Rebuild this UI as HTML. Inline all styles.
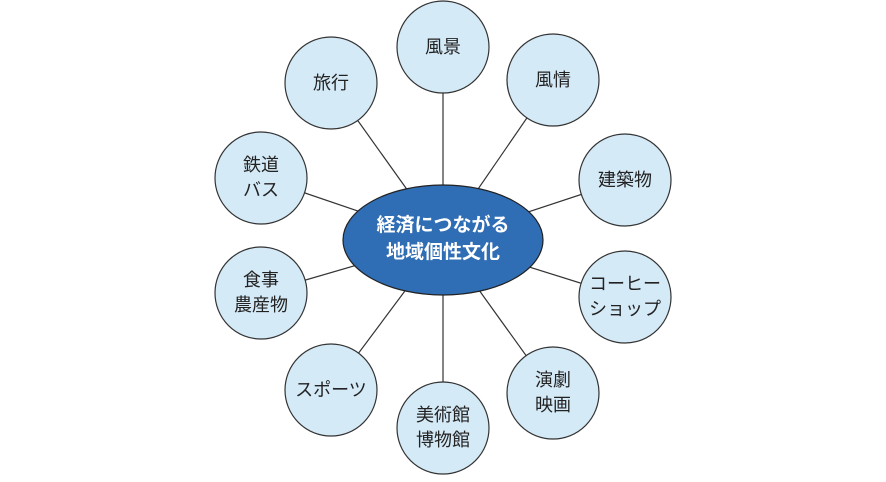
<!DOCTYPE html>
<html><head><meta charset="utf-8"><style>
body{margin:0;background:#fff}
svg text{font-family:"Liberation Sans","Noto Sans CJK JP",sans-serif}
</style></head><body>
<svg width="886" height="477" viewBox="0 0 886 477" xmlns="http://www.w3.org/2000/svg">
<g stroke="#333" stroke-width="1.2">
<line x1="443" y1="240" x2="443" y2="47"/>
<line x1="443" y1="240" x2="553" y2="80"/>
<line x1="443" y1="240" x2="625" y2="180"/>
<line x1="443" y1="240" x2="625" y2="297"/>
<line x1="443" y1="240" x2="553" y2="393"/>
<line x1="443" y1="240" x2="443" y2="428"/>
<line x1="443" y1="240" x2="331" y2="390"/>
<line x1="443" y1="240" x2="261" y2="293"/>
<line x1="443" y1="240" x2="261" y2="178"/>
<line x1="443" y1="240" x2="331" y2="83"/>
</g>
<g fill="#d5eaf7" stroke="#333" stroke-width="1.2">
<circle cx="443" cy="47" r="46"/>
<circle cx="553" cy="80" r="46"/>
<circle cx="625" cy="180" r="46"/>
<circle cx="625" cy="297" r="46"/>
<circle cx="553" cy="393" r="46"/>
<circle cx="443" cy="428" r="46"/>
<circle cx="331" cy="390" r="46"/>
<circle cx="261" cy="293" r="46"/>
<circle cx="261" cy="178" r="46"/>
<circle cx="331" cy="83" r="46"/>
</g>
<ellipse cx="443" cy="240" rx="100" ry="55" fill="#2f6db5" stroke="#222" stroke-width="1.2"/>
<g fill="#fff" font-size="19" font-weight="bold" text-anchor="middle">
<text x="443" y="231">経済につながる</text>
<text x="443" y="258">地域個性文化</text>
</g>
<g fill="#222" font-size="18" text-anchor="middle">
<text x="443" y="53">風景</text>
<text x="553" y="86">風情</text>
<text x="625" y="186">建築物</text>
<text x="625" y="290">コーヒー</text>
<text x="625" y="315">ショップ</text>
<text x="553" y="386">演劇</text>
<text x="553" y="411">映画</text>
<text x="443" y="421">美術館</text>
<text x="443" y="446">博物館</text>
<text x="331" y="396">スポーツ</text>
<text x="261" y="286">食事</text>
<text x="261" y="311">農産物</text>
<text x="261" y="171">鉄道</text>
<text x="261" y="196">バス</text>
<text x="331" y="89">旅行</text>
</g>
</svg>
</body></html>
